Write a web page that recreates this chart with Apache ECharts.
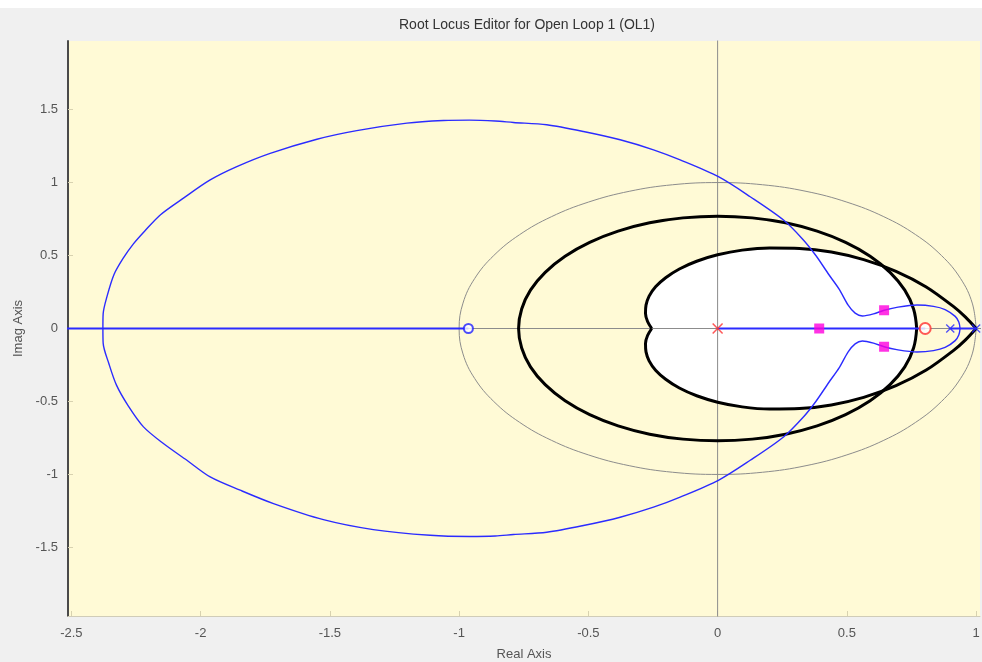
<!DOCTYPE html>
<html>
<head>
<meta charset="utf-8">
<script src="https://cdn.jsdelivr.net/npm/echarts@6/dist/echarts.min.js"></script>
<style>
html, body { margin: 0; padding: 0; background: #ffffff; }
#chart { position: absolute; left: 0; top: 8px; width: 982px; height: 654px; background: #f0f0f0; }
</style>
</head>
<body>
<div id="chart"></div>
<script>
// Axis tick labels
const realTicks = [-2.5, -2, -1.5, -1, -0.5, 0, 0.5, 1];
const imagTicks = [-1.5, -1, -0.5, 0, 0.5, 1, 1.5];

// Real and imaginary axes through the origin
const realAxisLine = [[-3, 0], [2, 0]];
const imagAxisLine = [[0, -3], [0, 3]];

// Unit circle (stability boundary)
const unitCircle = [
  [1, 0], [0.985, 0.174], [0.940, 0.342], [0.866, 0.5], [0.766, 0.643], [0.643, 0.766], [0.5, 0.866],
  [0.342, 0.940], [0.174, 0.985], [0, 1], [-0.174, 0.985], [-0.342, 0.940], [-0.5, 0.866],
  [-0.643, 0.766], [-0.766, 0.643], [-0.866, 0.5], [-0.940, 0.342], [-0.985, 0.174], [-1, 0],
  [-0.985, -0.174], [-0.940, -0.342], [-0.866, -0.5], [-0.766, -0.643], [-0.643, -0.766], [-0.5, -0.866],
  [-0.342, -0.940], [-0.174, -0.985], [0, -1], [0.174, -0.985], [0.342, -0.940], [0.5, -0.866],
  [0.643, -0.766], [0.766, -0.643], [0.866, -0.5], [0.940, -0.342], [0.985, -0.174], [1, 0]
];

// Settling-time requirement boundary
const settlingCircle = [
  [0.77, 0], [0.758, 0.134], [0.724, 0.263], [0.667, 0.385], [0.590, 0.495], [0.495, 0.590], [0.385, 0.667],
  [0.263, 0.724], [0.134, 0.758], [0, 0.77], [-0.134, 0.758], [-0.263, 0.724], [-0.385, 0.667],
  [-0.495, 0.590], [-0.590, 0.495], [-0.667, 0.385], [-0.724, 0.263], [-0.758, 0.134], [-0.77, 0],
  [-0.758, -0.134], [-0.724, -0.263], [-0.667, -0.385], [-0.590, -0.495], [-0.495, -0.590], [-0.385, -0.667],
  [-0.263, -0.724], [-0.134, -0.758], [0, -0.77], [0.134, -0.758], [0.263, -0.724], [0.385, -0.667],
  [0.495, -0.590], [0.590, -0.495], [0.667, -0.385], [0.724, -0.263], [0.758, -0.134], [0.77, 0]
];

// Damping-ratio requirement boundary (upper and lower halves)
const dampingUpper = [
  [1, 0], [0.959, 0.078], [0.913, 0.150], [0.807, 0.285], [0.690, 0.392], [0.565, 0.472], [0.440, 0.524],
  [0.317, 0.549], [0.201, 0.552], [0.095, 0.537], [0, 0.505], [-0.081, 0.461], [-0.148, 0.408],
  [-0.201, 0.348], [-0.240, 0.286], [-0.265, 0.222], [-0.277, 0.160], [-0.279, 0.102], [-0.271, 0.048], [-0.255, 0]
];
const dampingLower = [
  [1, 0], [0.959, -0.078], [0.913, -0.150], [0.807, -0.285], [0.690, -0.392], [0.565, -0.472], [0.440, -0.524],
  [0.317, -0.549], [0.201, -0.552], [0.095, -0.537], [0, -0.505], [-0.081, -0.461], [-0.148, -0.408],
  [-0.201, -0.348], [-0.240, -0.286], [-0.265, -0.222], [-0.277, -0.160], [-0.279, -0.102], [-0.271, -0.048], [-0.255, 0]
];

// Region meeting both requirements
const feasibleRegion = [
  [0.77, 0], [0.758, 0.134], [0.724, 0.263], [0.667, 0.385], [0.636, 0.433], [0.565, 0.472], [0.440, 0.524],
  [0.317, 0.549], [0.201, 0.552], [0.095, 0.537], [0, 0.505], [-0.081, 0.461], [-0.148, 0.408],
  [-0.201, 0.348], [-0.240, 0.286], [-0.265, 0.222], [-0.277, 0.160], [-0.279, 0.102], [-0.271, 0.048], [-0.255, 0],
  [-0.271, -0.048], [-0.279, -0.102], [-0.277, -0.160], [-0.265, -0.222], [-0.240, -0.286], [-0.201, -0.348],
  [-0.148, -0.408], [-0.081, -0.461], [0, -0.505], [0.095, -0.537], [0.201, -0.552], [0.317, -0.549],
  [0.440, -0.524], [0.565, -0.472], [0.636, -0.433], [0.667, -0.385], [0.724, -0.263], [0.758, -0.134], [0.77, 0]
];

// Root locus: real-axis segments
const locusRealSegments = [
  [[-3, 0], [-0.964, 0]],
  [[0, 0], [0.803, 0]],
  [[0.9, 0], [1, 0]]
];

// Root locus: complex branches
const locusUpper = [
  [-2.378, 0], [-2.377, 0.10], [-2.362, 0.22], [-2.335, 0.37], [-2.30, 0.48], [-2.26, 0.58], [-2.215, 0.67],
  [-2.155, 0.78], [-2.065, 0.895], [-1.963, 1.018], [-1.86, 1.109], [-1.731, 1.2], [-1.55, 1.297],
  [-1.396, 1.356], [-1.202, 1.407], [-1.061, 1.425], [-0.96, 1.428], [-0.86, 1.422], [-0.79, 1.412], [-0.661, 1.396],
  [-0.519, 1.35], [-0.377, 1.293], [-0.248, 1.224], [-0.145, 1.155], [0.003, 1.04], [0.126, 0.903],
  [0.255, 0.743], [0.33, 0.61], [0.38, 0.5], [0.43, 0.37], [0.47, 0.27], [0.505, 0.16], [0.532, 0.105],
  [0.56, 0.086], [0.603, 0.1], [0.644, 0.125], [0.693, 0.145], [0.771, 0.161], [0.835, 0.152],
  [0.88, 0.13], [0.919, 0.083], [0.933, 0.045], [0.938, 0]
];
const locusLower = [
  [-2.378, 0], [-2.377, -0.10], [-2.355, -0.24], [-2.325, -0.39], [-2.28, -0.53], [-2.221, -0.674],
  [-2.144, -0.788], [-2.053, -0.903], [-1.963, -1.017], [-1.847, -1.108], [-1.718, -1.2], [-1.525, -1.31],
  [-1.332, -1.378], [-1.112, -1.417], [-0.96, -1.425], [-0.86, -1.422], [-0.79, -1.412], [-0.661, -1.396],
  [-0.519, -1.35], [-0.377, -1.293], [-0.248, -1.224], [-0.145, -1.155], [0.003, -1.04], [0.126, -0.903],
  [0.255, -0.743], [0.33, -0.61], [0.38, -0.5], [0.43, -0.37], [0.47, -0.27], [0.505, -0.16], [0.532, -0.105],
  [0.56, -0.086], [0.603, -0.1], [0.644, -0.125], [0.693, -0.145], [0.771, -0.161], [0.835, -0.152],
  [0.88, -0.13], [0.919, -0.083], [0.933, -0.045], [0.938, 0]
];

// Poles, zeros and closed-loop poles
const plantPoles = [[0.9, 0], [1, 0]];
const plantZeros = [[-0.964, 0]];
const compensatorPoles = [[0, 0]];
const compensatorZeros = [[0.803, 0]];
const closedLoopPoles = [[0.393, 0], [0.644, 0.125], [0.644, -0.125]];

const FONT = 'Liberation Sans, Arial, sans-serif';
const LOCUS_BLUE = '#2b2bff';
const CROSS = 'path://M1,0L5,4L9,0L10,1L6,5L10,9L9,10L5,6L1,10L0,9L4,5L0,1Z';

const chart = echarts.init(document.getElementById('chart'), null, { renderer: 'canvas' });

function curve(data, color, width, z, smooth) {
  return {
    type: 'line', data: data, showSymbol: false, symbol: 'none', smooth: smooth,
    lineStyle: { color: color, width: width }, z: z, silent: true, animation: false,
    emphasis: { disabled: true }
  };
}

function markers(data, symbol, size, itemStyle, z) {
  return {
    type: 'scatter', data: data, symbol: symbol, symbolSize: size, itemStyle: itemStyle,
    z: z, silent: true, animation: false, emphasis: { disabled: true }
  };
}

const series = [
  {
    type: 'custom',
    coordinateSystem: 'cartesian2d',
    data: [[0, 0]],
    z: 1,
    silent: true,
    renderItem: function (params, api) {
      const pts = feasibleRegion.map(function (p) { return api.coord(p); });
      return { type: 'polygon', shape: { points: pts }, style: { fill: '#ffffff' } };
    }
  },
  curve(realAxisLine, '#8c8c8c', 1, 2, false),
  curve(imagAxisLine, '#8c8c8c', 1, 2, false),
  curve(unitCircle, '#8c8c8c', 1, 2, 0.4),
  curve(settlingCircle, '#000000', 3, 3, 0.4),
  curve(dampingUpper, '#000000', 3, 3, 0.3),
  curve(dampingLower, '#000000', 3, 3, 0.3)
];

locusRealSegments.forEach(function (seg) {
  series.push(curve(seg, LOCUS_BLUE, 2, 5, false));
});
series.push(curve(locusUpper, LOCUS_BLUE, 1.4, 5, 0.3));
series.push(curve(locusLower, LOCUS_BLUE, 1.4, 5, 0.3));

series.push(markers(compensatorPoles, CROSS, 11, { color: '#ff3030' }, 6));
series.push(markers(compensatorZeros, 'emptyCircle', 11, { color: '#ff3030', borderColor: '#ff3030', borderWidth: 1.5 }, 6));
series.push(markers(plantPoles, CROSS, 9, { color: '#2020ff' }, 6));
series.push(markers(plantZeros, 'emptyCircle', 9, { color: '#2020ff', borderColor: '#2020ff', borderWidth: 1.5 }, 6));
series.push(markers(closedLoopPoles, 'rect', 10, { color: '#ff00dd' }, 7));

chart.setOption({
  animation: false,
  backgroundColor: '#f0f0f0',
  title: {
    text: 'Root Locus Editor for Open Loop 1 (OL1)',
    left: 522, top: 5, textAlign: 'center',
    textStyle: { fontFamily: FONT, fontSize: 14, fontWeight: 'normal', color: '#333333' }
  },
  grid: {
    left: 68, top: 33, width: 912, height: 575,
    outerBoundsMode: 'none', containLabel: false,
    show: true, backgroundColor: '#fffad6', borderWidth: 0
  },
  xAxis: {
    type: 'value', min: -2.513, max: 1.015,
    name: 'Real Axis', nameLocation: 'middle', nameGap: 32,
    nameTextStyle: { fontFamily: FONT, fontSize: 13, color: '#555555' },
    axisLine: { show: true, onZero: false, lineStyle: { color: '#d0ccb8', width: 1 } },
    axisTick: { show: true, inside: true, length: 5, customValues: realTicks, lineStyle: { color: '#d8d2b0' } },
    axisLabel: { customValues: realTicks, fontFamily: FONT, fontSize: 13, color: '#555555', margin: 11 },
    splitLine: { show: false }
  },
  yAxis: {
    type: 'value', min: -1.97, max: 1.97,
    name: 'Imag Axis', nameLocation: 'middle', nameGap: 43, nameRotate: 90,
    nameTextStyle: { fontFamily: FONT, fontSize: 13, color: '#555555' },
    axisLine: { show: true, onZero: false, lineStyle: { color: '#4a4a4a', width: 2 } },
    axisTick: { show: true, inside: true, length: 5, customValues: imagTicks, lineStyle: { color: '#d8d2b0' } },
    axisLabel: { customValues: imagTicks, fontFamily: FONT, fontSize: 13, color: '#555555', margin: 10 },
    splitLine: { show: false }
  },
  series: series
});
</script>
</body>
</html>
